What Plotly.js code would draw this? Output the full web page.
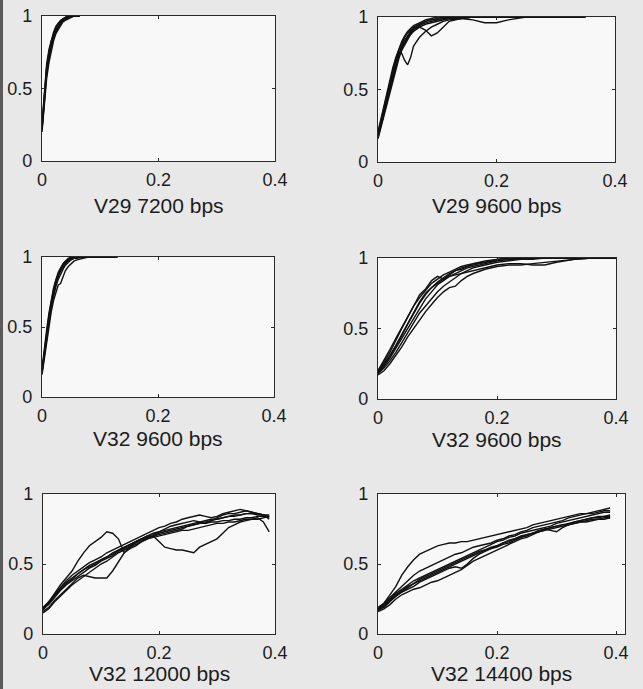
<!DOCTYPE html>
<html>
<head>
<meta charset="utf-8">
<script src="https://cdn.plot.ly/plotly-3.0.1.min.js"></script>
<style>html,body{margin:0;padding:0;background:#e8e8e8;}#chart{width:643px;height:689px;}</style>
</head>
<body>
<div id="chart"></div>
<script>
// ---------- data ----------
const panelTitles = ["V29 7200 bps", "V29 9600 bps", "V32 9600 bps", "V32 9600 bps", "V32 12000 bps", "V32 14400 bps"];
const xTickVals = [0, 0.2, 0.4];
const xTickText = ["0", "0.2", "0.4"];
const yTickVals = [0, 0.5, 1];
const yTickText = ["0", "0.5", "1"];

// Panel 1: V29 7200 bps
const x1 = [0, 0.004, 0.008, 0.012, 0.016, 0.02, 0.024, 0.028, 0.032, 0.036, 0.04, 0.045, 0.05, 0.055, 0.06, 0.065];
const p1c1 = [0.22, 0.45, 0.62, 0.72, 0.80, 0.86, 0.90, 0.93, 0.95, 0.97, 0.98, 0.99, 1, 1, 1, 1];
const p1c2 = [0.25, 0.50, 0.67, 0.77, 0.84, 0.89, 0.93, 0.95, 0.97, 0.98, 0.99, 1, 1, 1];
const p1c3 = [0.20, 0.40, 0.57, 0.68, 0.76, 0.83, 0.88, 0.91, 0.94, 0.96, 0.97, 0.98, 0.99, 1, 1, 1];
const p1c4 = [0.23, 0.47, 0.64, 0.75, 0.82, 0.88, 0.92, 0.94, 0.96, 0.98, 0.99, 1, 1];
const p1c5 = [0.21, 0.43, 0.60, 0.70, 0.79, 0.85, 0.89, 0.92, 0.95, 0.97, 0.98, 0.99, 1, 1, 1];
const p1c6 = [0.24, 0.48, 0.65, 0.74, 0.83, 0.87, 0.91, 0.95, 0.96, 0.97, 0.99, 1, 1, 1, 1, 1];

// Panel 2: V29 9600 bps
const x2 = [0, 0.005, 0.01, 0.015, 0.02, 0.025, 0.03, 0.035, 0.04, 0.045, 0.05, 0.055, 0.06, 0.07, 0.08, 0.09, 0.1, 0.11, 0.12, 0.14, 0.16, 0.18, 0.2, 0.22, 0.25, 0.3, 0.35];
const p2c1 = [0.18, 0.27, 0.36, 0.45, 0.53, 0.61, 0.69, 0.75, 0.80, 0.84, 0.87, 0.90, 0.92, 0.95, 0.97, 0.98, 0.99, 1, 1, 1, 1, 1, 1, 1, 1, 1, 1];
const p2c2 = [0.20, 0.29, 0.38, 0.47, 0.55, 0.63, 0.70, 0.76, 0.75, 0.70, 0.67, 0.72, 0.80, 0.86, 0.90, 0.93, 0.95, 0.97, 0.98, 0.99, 1, 1, 1, 1, 1, 1];
const p2c3 = [0.17, 0.25, 0.33, 0.42, 0.50, 0.58, 0.66, 0.73, 0.79, 0.83, 0.86, 0.88, 0.90, 0.93, 0.91, 0.87, 0.89, 0.93, 0.97, 0.99, 1, 1, 1, 1, 1];
const p2c4 = [0.19, 0.28, 0.37, 0.46, 0.55, 0.64, 0.71, 0.77, 0.82, 0.86, 0.89, 0.91, 0.93, 0.95, 0.97, 0.98, 0.98, 0.99, 0.99, 0.99, 0.98, 0.96, 0.96, 0.98, 1, 1, 1];
const p2c5 = [0.21, 0.30, 0.39, 0.48, 0.57, 0.65, 0.72, 0.78, 0.83, 0.87, 0.90, 0.92, 0.94, 0.96, 0.98, 0.99, 1, 1, 1, 1, 1, 1, 1, 1, 1, 1, 1];
const p2c6 = [0.16, 0.24, 0.32, 0.40, 0.48, 0.56, 0.64, 0.71, 0.77, 0.81, 0.85, 0.88, 0.91, 0.94, 0.96, 0.97, 0.98, 0.99, 1, 1, 1, 1, 1];
const p2c7 = [0.18, 0.26, 0.35, 0.44, 0.52, 0.60, 0.67, 0.73, 0.78, 0.82, 0.86, 0.89, 0.92, 0.93, 0.95, 0.96, 0.97, 0.98, 0.99, 0.99, 1, 1, 1, 1, 1, 1, 1];

// Panel 3: V32 9600 bps (left)
const x3 = [0, 0.004, 0.008, 0.012, 0.016, 0.02, 0.024, 0.028, 0.032, 0.036, 0.04, 0.045, 0.05, 0.055, 0.06, 0.07, 0.08, 0.1, 0.12, 0.13];
const p3c1 = [0.18, 0.32, 0.45, 0.57, 0.67, 0.75, 0.82, 0.87, 0.91, 0.94, 0.96, 0.98, 0.99, 1, 1, 1, 1, 1, 1, 1];
const p3c2 = [0.20, 0.35, 0.48, 0.60, 0.70, 0.78, 0.84, 0.89, 0.92, 0.95, 0.97, 0.98, 0.99, 1, 1, 1, 1, 1];
const p3c3 = [0.17, 0.30, 0.42, 0.54, 0.64, 0.72, 0.79, 0.84, 0.88, 0.91, 0.94, 0.96, 0.98, 0.99, 1, 1, 1, 1, 1];
const p3c4 = [0.16, 0.28, 0.40, 0.51, 0.61, 0.69, 0.75, 0.80, 0.81, 0.86, 0.90, 0.93, 0.95, 0.97, 0.98, 0.99, 1, 1, 1, 1];
const p3c5 = [0.19, 0.33, 0.46, 0.58, 0.68, 0.77, 0.83, 0.88, 0.92, 0.95, 0.97, 0.99, 1, 1, 1, 1, 1, 1, 1, 1];
const p3c6 = [0.18, 0.31, 0.44, 0.56, 0.66, 0.74, 0.81, 0.86, 0.90, 0.93, 0.95, 0.97, 0.98, 0.99, 0.99, 1, 1, 1, 1];

// Panel 4: V32 9600 bps (right)
const x4 = [0, 0.01, 0.02, 0.03, 0.04, 0.05, 0.06, 0.07, 0.08, 0.09, 0.1, 0.11, 0.12, 0.13, 0.14, 0.15, 0.16, 0.18, 0.2, 0.22, 0.24, 0.26, 0.28, 0.3, 0.33, 0.36, 0.4];
const p4c1 = [0.19, 0.24, 0.30, 0.37, 0.45, 0.53, 0.61, 0.68, 0.74, 0.79, 0.83, 0.86, 0.89, 0.91, 0.93, 0.94, 0.95, 0.97, 0.98, 0.99, 0.99, 1, 1, 1, 1, 1, 1];
const p4c2 = [0.18, 0.22, 0.27, 0.33, 0.40, 0.47, 0.54, 0.61, 0.66, 0.71, 0.76, 0.80, 0.83, 0.86, 0.89, 0.91, 0.93, 0.95, 0.97, 0.98, 0.99, 0.99, 1, 1, 1, 1, 1];
const p4c3 = [0.17, 0.20, 0.25, 0.31, 0.37, 0.44, 0.50, 0.56, 0.62, 0.67, 0.72, 0.76, 0.79, 0.80, 0.84, 0.87, 0.89, 0.92, 0.94, 0.95, 0.95, 0.96, 0.97, 0.98, 0.99, 1, 1];
const p4c4 = [0.20, 0.26, 0.33, 0.42, 0.50, 0.58, 0.66, 0.74, 0.78, 0.84, 0.87, 0.85, 0.88, 0.91, 0.92, 0.94, 0.96, 0.98, 0.99, 1, 1, 1, 1, 1, 1, 1, 1];
const p4c5 = [0.18, 0.23, 0.29, 0.36, 0.43, 0.51, 0.58, 0.65, 0.71, 0.76, 0.81, 0.84, 0.87, 0.89, 0.91, 0.93, 0.94, 0.96, 0.98, 0.99, 1, 1, 1, 1, 1, 1, 1];
const p4c6 = [0.19, 0.25, 0.31, 0.38, 0.46, 0.54, 0.62, 0.69, 0.75, 0.79, 0.82, 0.85, 0.87, 0.88, 0.89, 0.90, 0.91, 0.93, 0.95, 0.96, 0.96, 0.95, 0.95, 0.97, 0.99, 1, 1];
const p4c7 = [0.20, 0.27, 0.35, 0.43, 0.51, 0.59, 0.66, 0.72, 0.77, 0.82, 0.85, 0.88, 0.90, 0.92, 0.94, 0.95, 0.96, 0.97, 0.99, 1, 1, 1, 1, 1, 1, 1, 1];

// Panel 5: V32 12000 bps
const x5 = [0, 0.01, 0.02, 0.03, 0.04, 0.05, 0.06, 0.07, 0.08, 0.09, 0.1, 0.11, 0.12, 0.13, 0.14, 0.15, 0.16, 0.17, 0.18, 0.19, 0.2, 0.21, 0.22, 0.23, 0.24, 0.25, 0.26, 0.27, 0.28, 0.29, 0.3, 0.31, 0.32, 0.33, 0.34, 0.35, 0.36, 0.37, 0.38, 0.39];
const p5c1 = [0.18, 0.21, 0.26, 0.31, 0.35, 0.38, 0.41, 0.44, 0.47, 0.49, 0.52, 0.54, 0.56, 0.59, 0.61, 0.63, 0.65, 0.67, 0.69, 0.70, 0.72, 0.73, 0.74, 0.75, 0.76, 0.77, 0.78, 0.79, 0.79, 0.80, 0.80, 0.81, 0.81, 0.82, 0.82, 0.83, 0.83, 0.84, 0.84, 0.84];
const p5c2 = [0.18, 0.23, 0.29, 0.35, 0.40, 0.45, 0.52, 0.58, 0.63, 0.66, 0.69, 0.73, 0.72, 0.68, 0.58, 0.62, 0.66, 0.68, 0.70, 0.72, 0.73, 0.75, 0.77, 0.78, 0.79, 0.80, 0.81, 0.80, 0.79, 0.81, 0.83, 0.85, 0.86, 0.86, 0.87, 0.88, 0.87, 0.86, 0.85, 0.82];
const p5c3 = [0.16, 0.19, 0.24, 0.28, 0.32, 0.36, 0.40, 0.42, 0.41, 0.40, 0.40, 0.40, 0.45, 0.52, 0.58, 0.61, 0.63, 0.66, 0.68, 0.70, 0.71, 0.72, 0.73, 0.74, 0.75, 0.77, 0.78, 0.79, 0.80, 0.81, 0.82, 0.83, 0.84, 0.84, 0.85, 0.86, 0.86, 0.85, 0.85, 0.83];
const p5c4 = [0.19, 0.23, 0.28, 0.33, 0.37, 0.40, 0.43, 0.46, 0.49, 0.51, 0.53, 0.55, 0.58, 0.60, 0.62, 0.64, 0.66, 0.68, 0.69, 0.70, 0.66, 0.62, 0.61, 0.60, 0.60, 0.59, 0.58, 0.62, 0.64, 0.66, 0.68, 0.72, 0.76, 0.78, 0.80, 0.81, 0.82, 0.82, 0.83, 0.84];
const p5c5 = [0.17, 0.22, 0.28, 0.33, 0.38, 0.42, 0.45, 0.48, 0.51, 0.53, 0.55, 0.58, 0.60, 0.62, 0.64, 0.66, 0.68, 0.70, 0.72, 0.74, 0.76, 0.77, 0.79, 0.80, 0.82, 0.83, 0.84, 0.85, 0.84, 0.83, 0.84, 0.86, 0.87, 0.88, 0.89, 0.88, 0.87, 0.86, 0.85, 0.85];
const p5c6 = [0.15, 0.18, 0.23, 0.27, 0.31, 0.35, 0.38, 0.41, 0.44, 0.47, 0.50, 0.52, 0.55, 0.58, 0.60, 0.62, 0.64, 0.66, 0.68, 0.69, 0.70, 0.71, 0.72, 0.73, 0.74, 0.74, 0.75, 0.76, 0.77, 0.78, 0.79, 0.79, 0.80, 0.80, 0.81, 0.82, 0.82, 0.83, 0.80, 0.73];
const p5c7 = [0.19, 0.22, 0.27, 0.32, 0.36, 0.39, 0.43, 0.46, 0.48, 0.50, 0.53, 0.55, 0.57, 0.60, 0.62, 0.64, 0.66, 0.68, 0.70, 0.71, 0.73, 0.74, 0.75, 0.76, 0.77, 0.78, 0.79, 0.80, 0.81, 0.82, 0.82, 0.83, 0.84, 0.85, 0.85, 0.86, 0.86, 0.86, 0.85, 0.84];

// Panel 6: V32 14400 bps
const x6 = [0, 0.01, 0.02, 0.03, 0.04, 0.05, 0.06, 0.07, 0.08, 0.09, 0.1, 0.11, 0.12, 0.13, 0.14, 0.15, 0.16, 0.17, 0.18, 0.19, 0.2, 0.21, 0.22, 0.23, 0.24, 0.25, 0.26, 0.27, 0.28, 0.29, 0.3, 0.31, 0.32, 0.33, 0.34, 0.35, 0.36, 0.37, 0.38, 0.39];
const p6c1 = [0.18, 0.20, 0.24, 0.28, 0.31, 0.34, 0.36, 0.38, 0.40, 0.42, 0.44, 0.46, 0.48, 0.50, 0.52, 0.54, 0.56, 0.58, 0.60, 0.61, 0.63, 0.65, 0.66, 0.68, 0.70, 0.71, 0.72, 0.74, 0.75, 0.76, 0.77, 0.78, 0.79, 0.80, 0.81, 0.82, 0.83, 0.84, 0.84, 0.85];
const p6c2 = [0.18, 0.22, 0.28, 0.34, 0.42, 0.48, 0.53, 0.57, 0.59, 0.61, 0.63, 0.64, 0.65, 0.65, 0.66, 0.66, 0.67, 0.68, 0.69, 0.70, 0.71, 0.72, 0.73, 0.74, 0.75, 0.76, 0.78, 0.79, 0.80, 0.81, 0.82, 0.83, 0.84, 0.85, 0.86, 0.86, 0.87, 0.88, 0.89, 0.90];
const p6c3 = [0.16, 0.18, 0.21, 0.25, 0.28, 0.30, 0.32, 0.33, 0.35, 0.37, 0.38, 0.40, 0.42, 0.44, 0.46, 0.49, 0.52, 0.54, 0.56, 0.58, 0.60, 0.62, 0.64, 0.66, 0.68, 0.69, 0.71, 0.73, 0.74, 0.75, 0.76, 0.77, 0.78, 0.79, 0.80, 0.80, 0.81, 0.82, 0.82, 0.83];
const p6c4 = [0.19, 0.22, 0.26, 0.30, 0.34, 0.38, 0.42, 0.45, 0.47, 0.49, 0.51, 0.53, 0.55, 0.57, 0.58, 0.60, 0.62, 0.63, 0.64, 0.65, 0.67, 0.68, 0.70, 0.71, 0.73, 0.74, 0.76, 0.77, 0.78, 0.79, 0.80, 0.81, 0.83, 0.84, 0.85, 0.86, 0.86, 0.87, 0.88, 0.88];
const p6c5 = [0.17, 0.19, 0.23, 0.27, 0.30, 0.32, 0.34, 0.37, 0.39, 0.41, 0.43, 0.45, 0.47, 0.48, 0.47, 0.50, 0.54, 0.57, 0.59, 0.61, 0.62, 0.64, 0.65, 0.67, 0.69, 0.70, 0.72, 0.73, 0.75, 0.74, 0.73, 0.76, 0.78, 0.80, 0.81, 0.82, 0.83, 0.83, 0.84, 0.84];
const p6c6 = [0.18, 0.21, 0.25, 0.29, 0.32, 0.35, 0.38, 0.40, 0.42, 0.44, 0.46, 0.48, 0.50, 0.52, 0.54, 0.56, 0.58, 0.60, 0.62, 0.64, 0.66, 0.67, 0.69, 0.70, 0.72, 0.73, 0.74, 0.75, 0.76, 0.77, 0.79, 0.80, 0.81, 0.82, 0.83, 0.84, 0.85, 0.86, 0.87, 0.87];
const p6c7 = [0.17, 0.20, 0.24, 0.27, 0.30, 0.33, 0.36, 0.39, 0.41, 0.43, 0.45, 0.47, 0.49, 0.51, 0.53, 0.55, 0.57, 0.59, 0.60, 0.62, 0.63, 0.65, 0.67, 0.68, 0.69, 0.71, 0.72, 0.73, 0.74, 0.76, 0.77, 0.78, 0.78, 0.79, 0.80, 0.81, 0.82, 0.82, 0.83, 0.83];

const panelX = [x1, x2, x3, x4, x5, x6];
const panelCurves = [
  [p1c1, p1c2, p1c3, p1c4, p1c5, p1c6],
  [p2c1, p2c2, p2c3, p2c4, p2c5, p2c6, p2c7],
  [p3c1, p3c2, p3c3, p3c4, p3c5, p3c6],
  [p4c1, p4c2, p4c3, p4c4, p4c5, p4c6, p4c7],
  [p5c1, p5c2, p5c3, p5c4, p5c5, p5c6, p5c7],
  [p6c1, p6c2, p6c3, p6c4, p6c5, p6c6, p6c7]
];

// ---------- layout (pixel boxes of each panel) ----------
const W = 643, H = 689;
const boxes = [
  {l: 42, r: 275, t: 16, b: 161, xmax: 0.4},
  {l: 378, r: 615, t: 17, b: 162, xmax: 0.4},
  {l: 42, r: 274, t: 257, b: 397, xmax: 0.4},
  {l: 378, r: 616, t: 258, b: 399, xmax: 0.4},
  {l: 43, r: 275, t: 494, b: 634, xmax: 0.4},
  {l: 378, r: 625, t: 494, b: 634, xmax: 0.415}
];
const titleY = [205, 205, 438, 439, 673, 673];

const font = {family: "Liberation Sans, Arial, sans-serif", color: "#1c1c1c"};
const traces = [];
const layout = {
  width: W, height: H,
  margin: {l: 0, r: 0, t: 0, b: 0},
  paper_bgcolor: "#e8e8e8",
  plot_bgcolor: "#f8f8f8",
  showlegend: false,
  hovermode: false,
  annotations: [],
  shapes: [{type: "rect", xref: "paper", yref: "paper", x0: 0, x1: 3 / W, y0: 0, y1: 1, fillcolor: "#5a5a5a", line: {width: 0}}]
};

boxes.forEach((bx, i) => {
  const n = i === 0 ? "" : String(i + 1);
  const xa = "x" + n, ya = "y" + n;
  panelCurves[i].forEach(yv => {
    traces.push({
      type: "scatter", mode: "lines",
      x: panelX[i].slice(0, yv.length), y: yv,
      xaxis: xa, yaxis: ya,
      line: {color: "#111111", width: 1.4},
      hoverinfo: "skip"
    });
  });
  const common = {
    showgrid: false, zeroline: false, showline: true, mirror: "ticks",
    linecolor: "#2a2a2a", linewidth: 1.2,
    ticks: "inside", ticklen: 3, tickwidth: 1, tickcolor: "#2a2a2a",
    tickfont: Object.assign({size: 18}, font),
    fixedrange: true
  };
  layout["xaxis" + n] = Object.assign({}, common, {
    domain: [bx.l / W, bx.r / W],
    range: [0, bx.xmax],
    tickmode: "array", tickvals: xTickVals, ticktext: xTickText,
    anchor: ya, ticklabelstandoff: 2
  });
  layout["yaxis" + n] = Object.assign({}, common, {
    domain: [1 - bx.b / H, 1 - bx.t / H],
    range: [0, 1],
    tickmode: "array", tickvals: yTickVals, ticktext: yTickText,
    anchor: xa, ticklabelstandoff: 5
  });
  layout.annotations.push({
    xref: "paper", yref: "paper",
    x: (bx.l + bx.r) / 2 / W, y: 1 - titleY[i] / H,
    xanchor: "center", yanchor: "middle",
    text: panelTitles[i], showarrow: false,
    font: Object.assign({size: 21}, font)
  });
});

Plotly.newPlot("chart", traces, layout, {staticPlot: true, displayModeBar: false});
</script>
</body>
</html>
